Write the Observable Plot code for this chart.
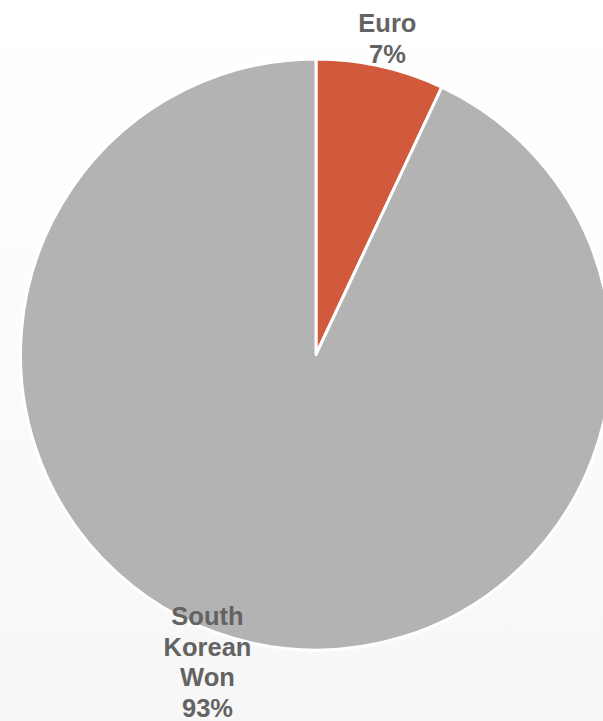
<!DOCTYPE html>
<html><head><meta charset="utf-8">
<script src="https://cdn.jsdelivr.net/npm/d3@7"></script>
<script src="https://cdn.jsdelivr.net/npm/@observablehq/plot@0.6"></script>
<style>html,body{margin:0;padding:0;overflow:hidden;background:#fff}</style>
</head><body><div id="chart"></div>
<script>
// Data
const categories = ["Euro", "South Korean Won"];
const shares = [7, 93];
const labelLines = [["Euro"], ["South", "Korean", "Won"]];
const colors = ["#d15a3c", "#b3b3b3"];

// Layout
const labelRadius = 1.1;
const labelNudgeDeg = [0, 7];

const total = d3.sum(shares);
const arcs = d3.pie().sort(null).value(d => d.value)(
  categories.map((c, i) => ({category: c, value: shares[i], color: colors[i]}))
);
const labels = arcs.map((a, i) => {
  const mid = (a.startAngle + a.endAngle) / 2 + labelNudgeDeg[i] * Math.PI / 180;
  return {
    x: labelRadius * Math.sin(mid),
    y: labelRadius * Math.cos(mid),
    text: [...labelLines[i], `${Math.round(a.data.value / total * 100)}%`].join("\n")
  };
});

const pieMark = Plot.dot(arcs, {
  x: () => 0,
  y: () => 0,
  render(index, scales) {
    const cx = scales.x(0), cy = scales.y(0), r = scales.x(1) - cx;
    const arc = d3.arc().innerRadius(0).outerRadius(r);
    const g = d3.create("svg:g").attr("transform", `translate(${cx},${cy})`);
    g.selectAll("path").data(Array.from(index, i => arcs[i])).join("path")
      .attr("d", arc)
      .attr("fill", d => d.data.color)
      .attr("stroke", "#fff")
      .attr("stroke-width", 3)
      .attr("stroke-linejoin", "round");
    return g.node();
  }
});

const chart = Plot.plot({
  width: 603,
  height: 721,
  x: {domain: [-1, 1], range: [20.5, 611.5], axis: null},
  y: {domain: [-1, 1], range: [650, 59], axis: null},
  style: {background: "linear-gradient(#ffffff, #f7f7f7)", overflow: "visible", fontFamily: "Liberation Sans, Arial, sans-serif"},
  marks: [
    pieMark,
    Plot.text(labels, {
      x: "x", y: "y", text: "text",
      fontSize: 25.5, fontWeight: "bold", fontFamily: "Liberation Sans, Arial, sans-serif",
      fill: "#636363", lineHeight: 1.2, textAnchor: "middle"
    })
  ]
});
document.getElementById("chart").appendChild(chart);
</script>
</body></html>
